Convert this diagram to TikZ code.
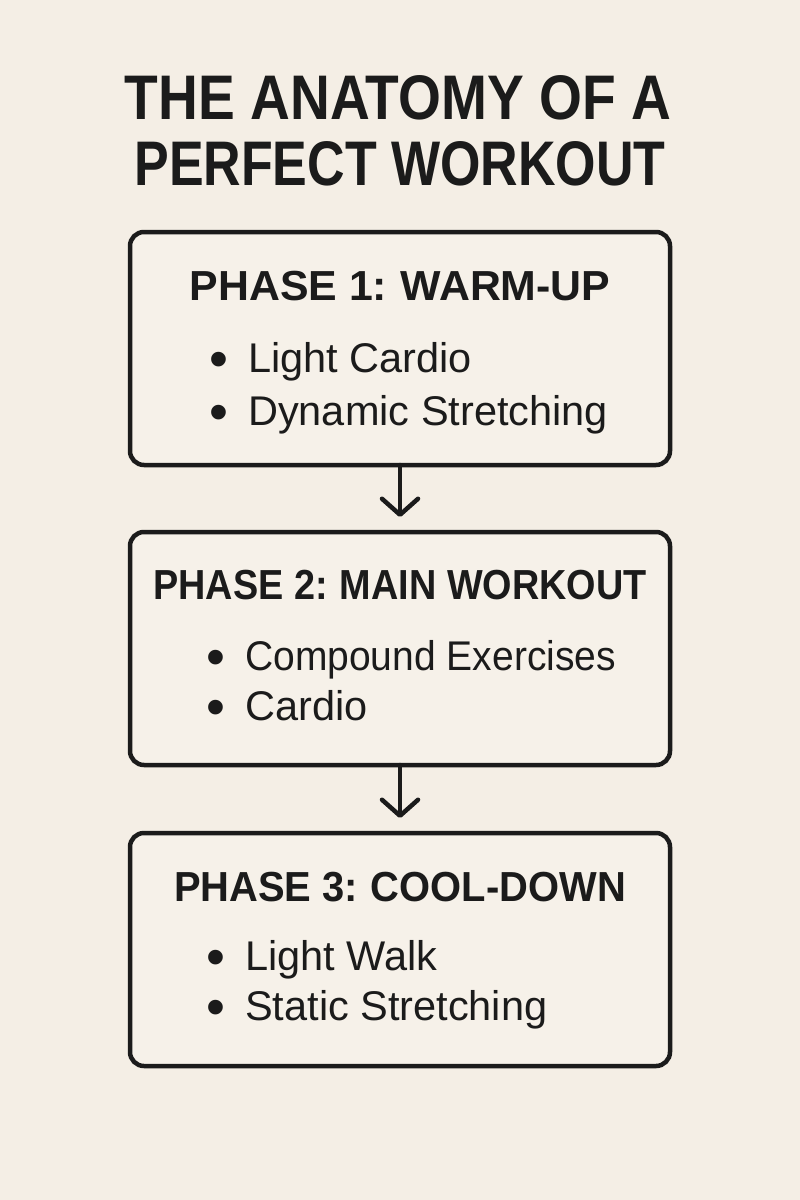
\documentclass[tikz,border=0pt]{standalone}
\usepackage{fontspec}
\setmainfont{Liberation Sans}
\usetikzlibrary{arrows.meta}
\definecolor{bg}{HTML}{F4EEE5}
\definecolor{boxfill}{HTML}{F6F1E9}
\definecolor{ink}{HTML}{1B1B1B}
\tikzset{
  phasebox/.style={draw=ink, fill=boxfill, line width=4.5pt, rounded corners=14pt},
  titletext/.style={anchor=base, inner sep=0pt, text=ink, font=\fontsize{63}{66}\selectfont\bfseries},
  headtext/.style={anchor=base, inner sep=0pt, text=ink, font=\fontsize{42}{46}\selectfont\bfseries},
  itemtext/.style={anchor=base west, inner sep=0pt, text=ink, font=\fontsize{41.5}{46}\selectfont},
  bullettext/.style={anchor=base, inner sep=0pt, text=ink, font=\fontsize{54}{56}\selectfont},
  flowarrow/.style={draw=ink, line width=4.5pt, line cap=round, -{Straight Barb[length=16pt,width=36pt,line width=4.5pt,round]}}
}
\begin{document}
\begin{tikzpicture}[x=1pt,y=-1pt]
\useasboundingbox (0,0) rectangle (800,1200);
\fill[bg] (0,0) rectangle (800,1200);

\node[titletext] (t1) at (398,119) {\scalebox{0.875}[1]{THE ANATOMY OF A}};
\node[titletext] (t2) at (400,185) {\scalebox{0.825}[1]{PERFECT WORKOUT}};

\draw[phasebox] (130,232) rectangle (670,465);
\coordinate (b1s) at (400,465);
\draw[phasebox] (130,532) rectangle (670,765);
\coordinate (b2n) at (400,532);
\coordinate (b2s) at (400,765);
\draw[phasebox] (130,833) rectangle (670,1066);
\coordinate (b3n) at (400,833);

\node[headtext] (h1) at (400,300) {\scalebox{1.02}[1]{PHASE 1:\hspace{-2pt} WARM-UP}};
\node[bullettext] (d11) at (219,377) {•};
\node[itemtext] (i11) at (248,372) {Light Cardio};
\node[bullettext] (d12) at (219,430) {•};
\node[itemtext] (i12) at (248,425) {Dynamic Stretching};

\node[headtext] (h2) at (400,599) {\scalebox{0.9}[1]{PHASE 2:\hspace{-2pt} MAIN WORKOUT}};
\node[bullettext] (d21) at (216,675) {•};
\node[itemtext] (i21) at (245,670) {\scalebox{0.94}[1]{Compound Exercises}};
\node[bullettext] (d22) at (216,725) {•};
\node[itemtext] (i22) at (245,720) {Cardio};

\node[headtext] (h3) at (400,901) {\scalebox{0.95}[1]{PHASE 3:\hspace{-2pt} COOL-DOWN}};
\node[bullettext] (d31) at (216,975) {•};
\node[itemtext] (i31) at (245,970) {Light Walk};
\node[bullettext] (d32) at (216,1025) {•};
\node[itemtext] (i32) at (245,1020) {Static Stretching};

\draw[flowarrow] (b1s) -- ([yshift=15pt]b2n);
\draw[flowarrow] (b2s) -- ([yshift=15pt]b3n);
\end{tikzpicture}
\end{document}
